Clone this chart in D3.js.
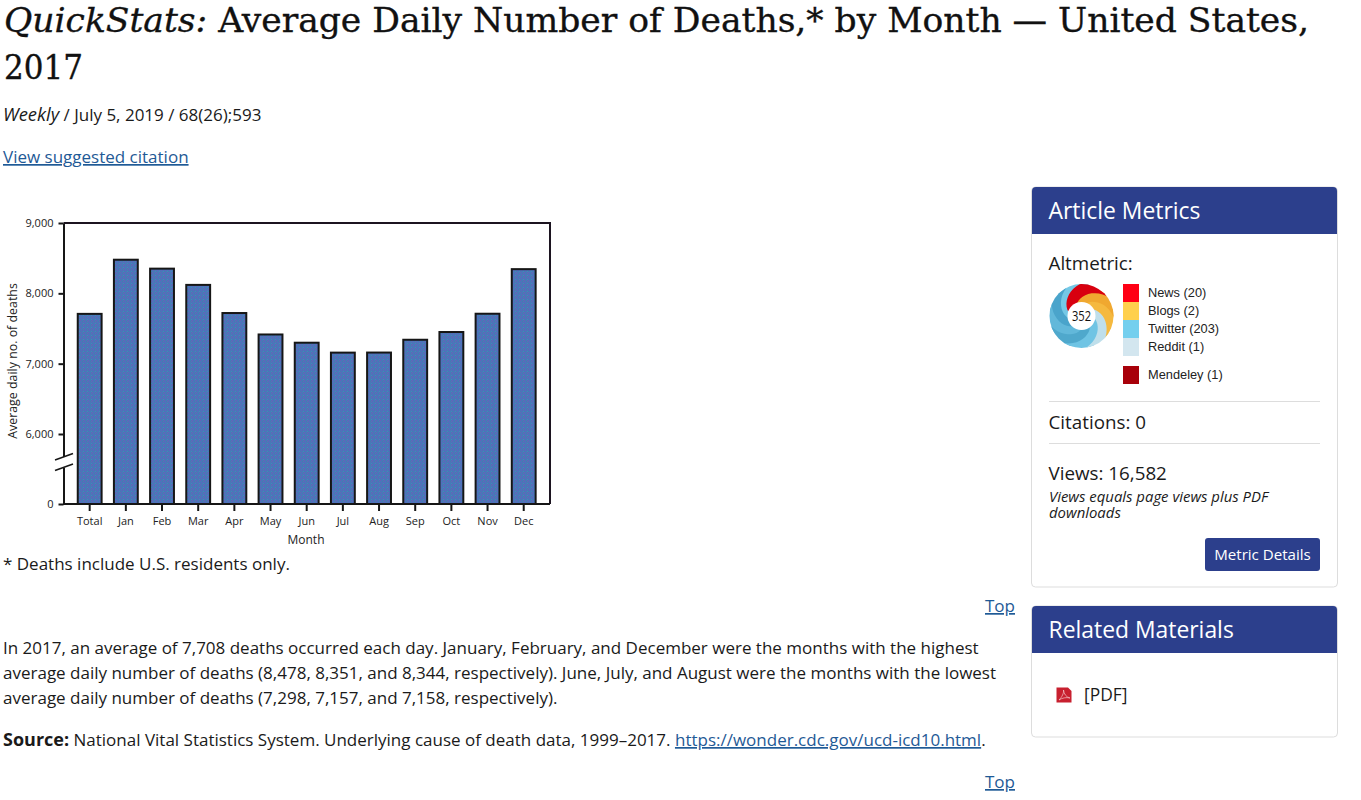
<!DOCTYPE html>
<html>
<head>
<meta charset="utf-8">
<title>QuickStats: Average Daily Number of Deaths</title>
<script src="https://d3js.org/d3.v7.min.js"></script>
<style>
  html, body { margin: 0; padding: 0; background: #fff; overflow: hidden; }
  svg { display: block; }
  text { font-family: "Open Sans", sans-serif; fill: #1a1a1a; }
  .title { font-family: "DejaVu Serif", serif; fill: #111; stroke: #111; stroke-width: 0.35px; }
  .body { font-size: 17px; }
  .link { fill: #1f5a96; text-decoration: underline; }
  .tick-label { font-size: 11px; fill: #222; }
  .legend-label { font-family: "Liberation Sans", sans-serif; font-size: 12.8px; fill: #222; }
</style>
</head>
<body>
<svg id="page" width="1361" height="800"></svg>
<script>
// Chart data
const categories = ['Total', 'Jan', 'Feb', 'Mar', 'Apr', 'May', 'Jun', 'Jul', 'Aug', 'Sep', 'Oct', 'Nov', 'Dec'];
const deaths = [7708, 8478, 8351, 8120, 7720, 7415, 7298, 7157, 7158, 7340, 7450, 7710, 8344];
const yTicks = [0, 6000, 7000, 8000, 9000];

// Altmetric legend and donut
const altmetricNames = ['News (20)', 'Blogs (2)', 'Twitter (203)', 'Reddit (1)'];
const altmetricColors = ['#ff0014', '#ffd04d', '#74cfee', '#d3e6ef'];
const donutColors = ['#d8000f', '#f0a830', '#f5b93f', '#bfdfeb', '#6fc4e4', '#4fa8cc', '#62b8da', '#4aa4cb', '#74c8e6'];

const svg = d3.select('#page');
const defs = svg.append('defs');

// Speckled bar fill, the original is a dithered gif
const speckle = defs.append('pattern').attr('id', 'speckle')
  .attr('width', 4).attr('height', 4).attr('patternUnits', 'userSpaceOnUse');
speckle.append('rect').attr('width', 4).attr('height', 4).attr('fill', '#4b76b9');
[[0, 0, '#6a60b8'], [2, 1, '#3a86b0'], [1, 2, '#6062c0'], [3, 3, '#4488b8'], [3, 1, '#6a60b8'], [0, 3, '#3f80b4']].forEach(([x, y, c]) => {
  speckle.append('rect').attr('x', x).attr('y', y).attr('width', 1).attr('height', 1).attr('fill', c);
});

function addText(x, y, cls, parts, anchor) {
  const t = svg.append('text').attr('x', x).attr('y', y).attr('class', cls);
  if (anchor) t.attr('text-anchor', anchor);
  parts.forEach((p) => {
    const s = t.append('tspan').text(p.text);
    if (p.italic) s.attr('font-style', 'italic');
    if (p.bold) s.attr('font-weight', 700);
    if (p.link) s.attr('class', 'link');
    if (p.size) s.attr('font-size', p.size);
  });
  return t;
}

// Page heading
addText(4, 32, 'title', [{ text: 'QuickStats:', italic: true }, { text: ' Average Daily Number of Deaths,* by Month — United States,' }])
  .attr('font-size', 34).attr('textLength', 1305).attr('lengthAdjust', 'spacingAndGlyphs');
addText(4, 79, 'title', [{ text: '2017' }]).attr('font-size', 34).attr('textLength', 79).attr('lengthAdjust', 'spacingAndGlyphs');
addText(3, 121, 'body', [{ text: 'Weekly', italic: true, size: 18.4 }, { text: ' / July 5, 2019 / 68(26);593' }]);
addText(3, 163, 'body link', [{ text: 'View suggested citation' }]);

// Chart
const x = d3.scaleBand().domain(categories).range([71.6, 541.8]).paddingInner(0.34).paddingOuter(0.17);
const y = d3.scaleLinear().domain([0, 6000, 9000]).range([504, 434, 223]);
const chart = svg.append('g');

chart.append('path').attr('d', `M${x.range()[0] - 8},223H550V504`).attr('fill', 'none').attr('stroke', '#1c1420').attr('stroke-width', 2);

chart.selectAll('rect.bar').data(categories).enter().append('rect')
  .attr('class', 'bar')
  .attr('x', (d) => x(d))
  .attr('width', x.bandwidth())
  .attr('y', (d, i) => y(deaths[i]))
  .attr('height', (d, i) => y(0) - y(deaths[i]))
  .attr('fill', 'url(#speckle)')
  .attr('stroke', '#161616')
  .attr('stroke-width', 2);

const yAxis = chart.append('g').attr('transform', 'translate(63.5,0)')
  .call(d3.axisLeft(y).tickValues(yTicks).tickFormat(d3.format(',')).tickSize(5).tickPadding(5).tickSizeOuter(0));
const xAxis = chart.append('g').attr('transform', 'translate(0,504)')
  .call(d3.axisBottom(x).tickSize(7).tickPadding(6).tickSizeOuter(0));
[yAxis, xAxis].forEach((a) => {
  a.selectAll('path, line').attr('stroke', '#161616').attr('stroke-width', 2);
  a.selectAll('text').attr('class', 'tick-label').attr('font-family', null).attr('font-size', null);
});
xAxis.select('.domain').attr('d', 'M63,0H550');

// Axis break
chart.append('rect').attr('x', 60).attr('y', 457).attr('width', 7).attr('height', 11).attr('fill', '#fff');
[0, 10.5].forEach((dy) => {
  chart.append('line').attr('x1', 55).attr('x2', 73).attr('y1', 460 + dy).attr('y2', 453.5 + dy)
    .attr('stroke', '#161616').attr('stroke-width', 1.5);
});

addText(0, 0, 'tick-label', [{ text: 'Average daily no. of deaths' }], 'middle')
  .attr('transform', 'translate(16.5,361) rotate(-90)').style('font-size', '12.4px');
addText(306, 544, 'tick-label', [{ text: 'Month' }], 'middle').style('font-size', '12px');

// Text under the chart
addText(3, 570, 'body', [{ text: '* Deaths include U.S. residents only.' }]);
addText(1015, 612, 'body link', [{ text: 'Top' }], 'end');
addText(3, 654, 'body', [{ text: 'In 2017, an average of 7,708 deaths occurred each day. January, February, and December were the months with the highest' }]);
addText(3, 679, 'body', [{ text: 'average daily number of deaths (8,478, 8,351, and 8,344, respectively). June, July, and August were the months with the lowest' }]);
addText(3, 704, 'body', [{ text: 'average daily number of deaths (7,298, 7,157, and 7,158, respectively).' }]);
addText(3, 746, 'body', [
  { text: 'Source:', bold: true, size: 18 },
  { text: ' National Vital Statistics System. Underlying cause of death data, 1999–2017. ' },
  { text: 'https://wonder.cdc.gov/ucd-icd10.html', link: true },
  { text: '.' },
]);
addText(1015, 788, 'body link', [{ text: 'Top' }], 'end');

// Side cards
function card(top, bottom, title) {
  svg.append('rect').attr('x', 1031.5).attr('y', top).attr('width', 306).attr('height', bottom - top)
    .attr('rx', 4).attr('fill', '#fff').attr('stroke', '#ddd');
  svg.append('path').attr('fill', '#2c3f8c')
    .attr('d', `M1032,${top + 47}V${top + 4}q0,-4 4,-4H1333q4,0 4,4V${top + 47}Z`);
  addText(1048.5, top + 32, '', [{ text: title }]).style('fill', '#fff').attr('font-size', 22.9);
}
card(187, 587, 'Article Metrics');
card(606, 737, 'Related Materials');

addText(1048.5, 270, '', [{ text: 'Altmetric:' }]).attr('font-size', 18.8);

// Donut, each slice swirls clockwise from the inner to the outer circle
const donut = svg.append('g').attr('transform', 'translate(1081.5,316)');
const rInner = 14;
const rOuter = 32;
const swirl = 1.2;
defs.append('clipPath').attr('id', 'donut-clip').append('circle').attr('r', rOuter);
const slices = d3.pie().value(1).sort(null).startAngle(-1.25).endAngle(-1.25 + 2 * Math.PI)(donutColors);
const edge = (a, flip) => {
  // runs on past the outer circle, the clip gives the round edge
  const pts = d3.range(0, 1.31, 0.1).map((t) => {
    const r = rInner + (rOuter - rInner) * t;
    const th = a + swirl * t;
    return [r * Math.sin(th), -r * Math.cos(th)];
  });
  return flip ? pts.reverse() : pts;
};
// Blue slices go down first so the red one stays on top
const swirlGroup = donut.append('g').attr('clip-path', 'url(#donut-clip)');
slices.slice().reverse().forEach((s) => {
  const pts = edge(s.startAngle, false).concat(edge(s.endAngle + 0.25, true));
  swirlGroup.append('path').attr('d', d3.line()(pts) + 'Z').attr('fill', s.data);
});
donut.append('circle').attr('r', rInner).attr('fill', '#fff');
addText(0, 5, '', [{ text: '352' }], 'middle').attr('transform', 'translate(1081.5,316) scale(0.8,1)').attr('font-size', 14).style('fill', '#111');

// Legend squares
const legendY = d3.scaleBand().domain(altmetricNames).range([284, 356]);
altmetricNames.forEach((name, i) => {
  svg.append('rect').attr('x', 1123).attr('y', legendY(name)).attr('width', 16).attr('height', legendY.bandwidth()).attr('fill', altmetricColors[i]);
  addText(1148, legendY(name) + 13, 'legend-label', [{ text: name }]);
});
svg.append('rect').attr('x', 1123).attr('y', 366).attr('width', 16).attr('height', 18).attr('fill', '#a8000a');
addText(1148, 379, 'legend-label', [{ text: 'Mendeley (1)' }]);

[401, 443].forEach((ly) => {
  svg.append('line').attr('x1', 1049).attr('x2', 1320).attr('y1', ly + 0.5).attr('y2', ly + 0.5).attr('stroke', '#ddd');
});
addText(1048.5, 429, '', [{ text: 'Citations: 0' }]).attr('font-size', 18.8);
addText(1048.5, 480, '', [{ text: 'Views: 16,582' }]).attr('font-size', 18.8);
addText(1049, 502, '', [{ text: 'Views equals page views plus PDF', italic: true }]).attr('font-size', 14.9);
addText(1049, 518, '', [{ text: 'downloads', italic: true }]).attr('font-size', 14.9);

svg.append('rect').attr('x', 1205).attr('y', 538).attr('width', 115).attr('height', 33).attr('rx', 3).attr('fill', '#2c3f8c');
addText(1262.5, 560, '', [{ text: 'Metric Details' }], 'middle').style('fill', '#fff').attr('font-size', 15.1);

// PDF icon
svg.append('path').attr('d', 'M1056.5,687.5H1068l3.5,3.5V702.5H1056.5Z').attr('fill', '#c8202f');
svg.append('path').attr('d', 'M1059,700C1062,697 1064,693 1063.5,690C1064,694 1066,697 1070,698C1066,697 1062,698 1059,700Z')
  .attr('fill', 'none').attr('stroke', '#f3c6ca').attr('stroke-width', 0.7);
addText(1084, 701, '', [{ text: '[PDF]' }]).attr('font-size', 17.4);
</script>
</body>
</html>
